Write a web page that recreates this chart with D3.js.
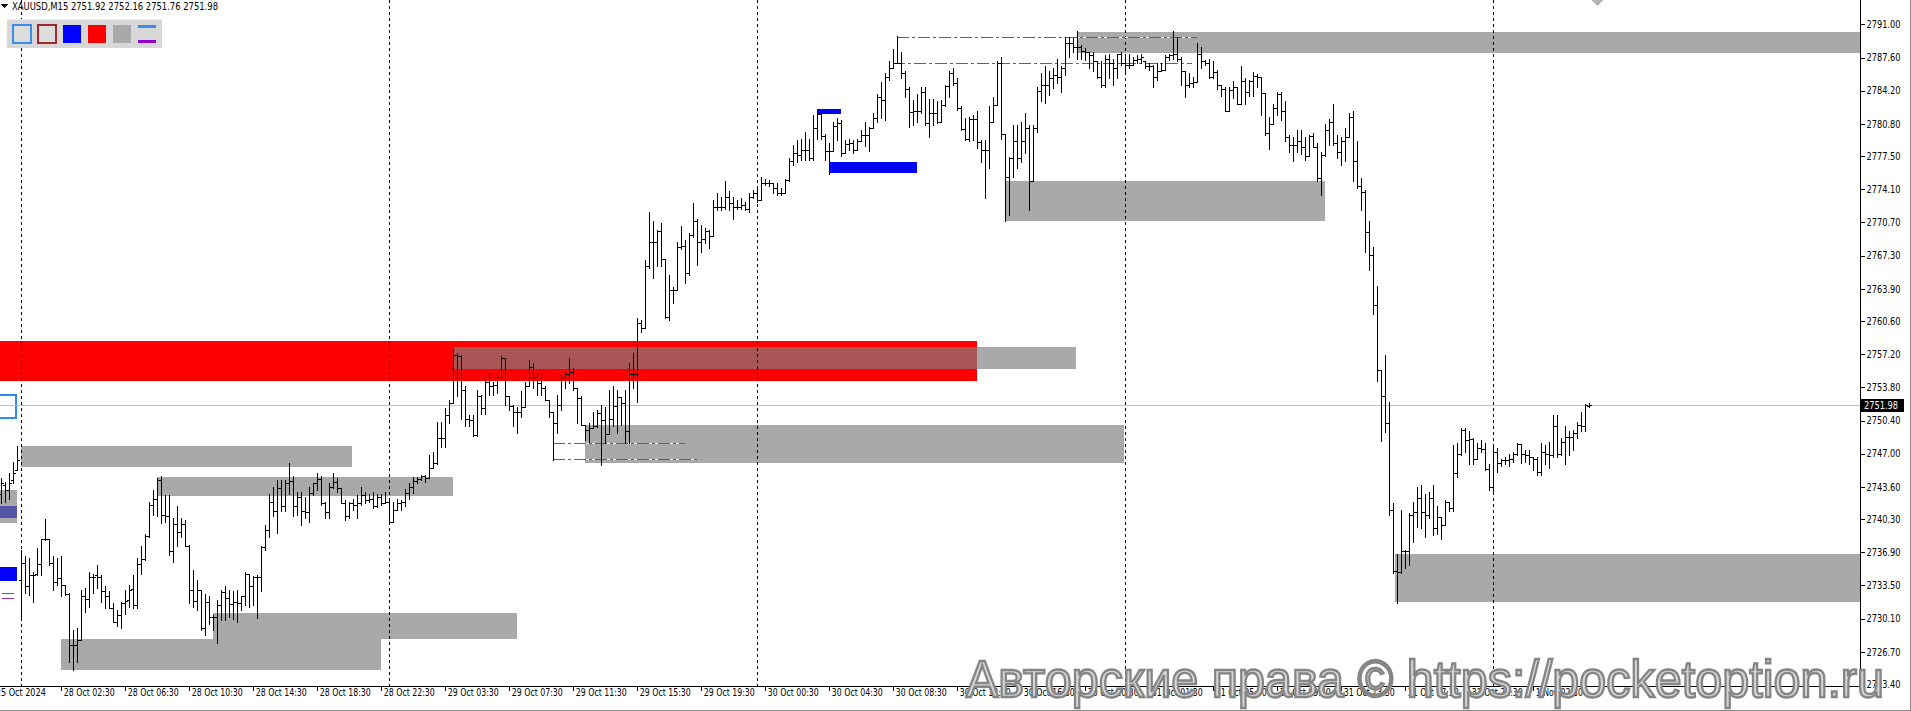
<!DOCTYPE html>
<html><head><meta charset="utf-8">
<script src="https://cdn.jsdelivr.net/npm/d3@7"></script>
<style>html,body{margin:0;padding:0;background:#fff;overflow:hidden}svg{display:block}</style>
</head><body>
<svg id="chart" width="1911" height="711"></svg>
<script>
// ---------- DATA (XAUUSD M15, [open, high, low, close]) ----------
const bars25Oct = [
[2742.9,2744.5,2741.9,2744.0],[2743.8,2744.1,2742.1,2743.3],[2743.3,2745.0,2742.4,2744.0],[2744.3,2746.2,2744.0,2745.0],[2745.3,2747.8,2745.3,2746.4]];
const bars28Oct = [
[2734.1,2737.1,2730.1,2735.8],[2735.8,2736.5,2732.7,2733.4],[2733.4,2736.3,2732.5,2734.6],[2734.6,2734.9,2731.8,2734.6],[2734.7,2737.3,2734.6,2735.7],
[2735.7,2738.3,2734.6,2738.3],[2738.3,2740.3,2738.2,2738.3],[2738.3,2738.3,2735.6,2735.8],[2735.8,2736.5,2733.0,2733.9],[2733.9,2736.3,2733.5,2734.3],
[2734.3,2736.5,2732.4,2733.5],[2733.5,2733.5,2732.5,2732.6],[2732.6,2732.7,2725.7,2727.4],[2727.4,2728.9,2724.8,2727.4],[2727.4,2729.1,2725.7,2727.9],
[2727.9,2733.0,2727.9,2732.4],[2732.4,2733.2,2730.8,2732.1],[2732.1,2734.9,2731.3,2734.4],[2734.4,2734.7,2732.7,2734.4],[2734.6,2735.6,2733.2,2734.4],
[2734.4,2734.6,2731.8,2732.9],[2732.9,2733.4,2731.2,2732.4],[2732.4,2732.9,2731.2,2731.2],[2731.2,2731.7,2729.8,2729.8],[2729.8,2731.0,2729.3,2730.5],
[2730.5,2731.8,2729.1,2731.7],[2731.7,2733.0,2730.6,2731.9],[2732.0,2733.5,2731.3,2733.0],[2733.1,2734.6,2731.2,2731.5],[2731.5,2736.3,2731.2,2735.7],
[2735.7,2737.5,2734.7,2736.2],[2736.2,2738.8,2736.1,2738.6],[2738.6,2742.1,2738.5,2741.7],[2741.7,2743.3,2740.7,2742.4],[2742.4,2744.5,2740.6,2744.3],
[2744.3,2744.7,2739.9,2740.7],[2740.7,2742.8,2740.0,2740.6],[2740.6,2742.8,2736.6,2737.0],[2737.0,2740.4,2735.9,2739.8],[2739.8,2741.6,2737.5,2739.0],
[2739.0,2740.4,2738.5,2739.8],[2739.8,2740.2,2737.5,2737.5],[2737.5,2737.6,2731.7,2733.0],[2733.0,2735.1,2731.3,2731.9],[2731.9,2734.1,2731.0,2733.0],
[2733.0,2733.0,2728.9,2729.1],[2729.1,2732.6,2728.4,2731.8],[2731.8,2732.4,2729.6,2730.3],[2730.3,2730.5,2728.9,2730.3],[2730.3,2732.0,2727.6,2731.5],
[2731.5,2733.0,2730.0,2732.8],[2732.8,2733.4,2730.0,2732.2],[2732.2,2733.0,2730.3,2731.6],[2731.6,2732.9,2730.1,2731.8],[2731.8,2733.0,2729.8,2731.7],
[2731.7,2732.4,2731.0,2732.4],[2732.4,2734.9,2731.5,2734.7],[2734.7,2734.7,2731.3,2733.4],[2733.4,2734.5,2731.5,2734.4],[2734.4,2734.6,2730.2,2734.4],
[2734.4,2737.5,2732.9,2737.4],[2737.4,2739.7,2737.1,2739.2],[2739.2,2742.9,2738.5,2742.1],[2742.1,2743.6,2740.6,2741.1],[2741.1,2744.3,2738.9,2743.5],
[2743.5,2744.3,2741.1,2741.6],[2741.6,2744.3,2741.1,2744.0],[2744.0,2746.0,2742.9,2744.2],[2744.2,2744.7,2740.6,2741.6],[2741.6,2743.1,2740.7,2742.6],
[2742.6,2743.1,2739.7,2741.1],[2741.1,2742.6,2740.4,2741.0],[2741.0,2743.6,2740.0,2743.0],[2743.0,2744.0,2742.8,2744.0],[2744.0,2745.0,2743.3,2744.4],
[2744.4,2744.7,2741.7,2741.9],[2741.9,2742.1,2740.4,2741.0],[2741.0,2744.0,2740.4,2743.6],[2743.6,2745.0,2743.5,2744.1],[2744.1,2744.5,2743.1,2743.5],
[2743.5,2743.5,2741.9,2742.0],[2742.0,2742.3,2740.2,2740.6],[2740.6,2742.1,2740.4,2741.9],[2741.9,2742.4,2741.2,2741.7],[2741.7,2742.8,2740.4,2741.9],
[2741.9,2743.6,2741.7,2742.8],[2742.8,2743.1,2741.9,2742.3],[2742.3,2742.9,2742.1,2742.4],[2742.4,2743.1,2741.4,2741.6],[2741.6,2742.9,2741.5,2742.6],
[2742.6,2742.9,2741.7,2741.9],[2741.9,2743.1,2741.9,2742.1]];
const bars29Oct = [
[2742.1,2742.4,2739.9,2740.0],[2740.0,2742.1,2740.0,2741.2],[2741.2,2742.4,2741.2,2741.9],[2741.9,2742.3,2741.2,2742.1],[2742.1,2743.4,2741.6,2743.0],
[2743.0,2744.0,2742.4,2743.6],[2743.6,2744.6,2743.0,2744.2],[2744.2,2744.6,2744.0,2744.4],[2744.4,2744.8,2744.3,2744.7],[2744.7,2744.8,2744.1,2744.5],
[2744.5,2746.9,2744.5,2745.5],[2745.5,2747.2,2745.5,2746.0],[2746.0,2750.3,2745.9,2748.6],[2748.6,2750.3,2747.7,2748.6],[2748.6,2751.7,2747.7,2751.0],
[2751.0,2752.5,2750.1,2752.2],[2752.2,2757.8,2752.2,2757.1],[2757.1,2757.3,2752.9,2757.0],[2757.0,2757.1,2750.6,2753.5],[2753.5,2753.9,2749.8,2750.6],
[2750.6,2751.0,2749.8,2750.5],[2750.5,2751.0,2748.8,2748.9],[2748.9,2753.5,2748.8,2752.9],[2752.9,2753.0,2751.1,2751.7],[2751.7,2754.7,2751.1,2754.4],
[2754.4,2755.4,2753.0,2753.9],[2753.9,2754.4,2753.0,2754.0],[2754.0,2755.2,2753.2,2754.9],[2754.9,2757.0,2754.7,2756.8],[2756.8,2756.8,2752.0,2752.9],
[2752.9,2752.9,2751.5,2751.9],[2751.9,2752.0,2749.8,2751.3],[2751.3,2751.8,2749.1,2751.3],[2751.3,2753.4,2750.8,2751.8],[2751.8,2754.4,2751.8,2753.9],
[2753.9,2756.6,2753.9,2755.9],[2755.9,2756.3,2753.7,2754.9],[2754.9,2755.4,2753.0,2754.2],[2754.2,2755.2,2753.0,2753.7],[2753.7,2753.9,2752.5,2752.5],
[2752.5,2752.5,2750.8,2751.3],[2751.3,2751.3,2746.4,2750.1],[2750.1,2753.0,2749.1,2752.0],[2752.0,2755.1,2751.5,2754.9],[2754.9,2755.4,2753.7,2755.2],
[2755.2,2756.8,2754.2,2755.4],[2755.4,2755.8,2753.5,2753.7],[2753.7,2753.7,2750.1,2752.7],[2752.7,2752.9,2749.9,2749.9],[2749.9,2749.9,2748.4,2749.4],
[2749.4,2750.1,2748.2,2749.6],[2749.6,2751.3,2749.6,2749.8],[2749.8,2751.5,2749.7,2751.2],[2751.2,2752.0,2745.8,2750.5],[2750.5,2751.8,2748.1,2749.0],
[2749.0,2753.5,2749.0,2750.6],[2750.6,2753.9,2749.8,2751.9],[2751.9,2753.5,2749.1,2752.8],[2752.8,2752.8,2749.9,2752.2],[2752.2,2753.5,2748.1,2749.3],
[2749.3,2756.3,2748.1,2755.2],[2755.2,2757.3,2753.7,2755.2],[2755.2,2760.9,2752.3,2760.4],[2760.4,2760.7,2759.5,2759.9],[2759.9,2766.9,2759.9,2766.2],
[2766.2,2771.8,2766.0,2768.7],[2768.7,2770.8,2765.0,2768.7],[2768.7,2769.9,2766.2,2769.8],[2769.8,2770.6,2766.2,2767.0],[2767.0,2767.0,2760.9,2761.0],
[2761.0,2765.3,2760.7,2763.8],[2763.8,2764.1,2762.4,2763.8],[2763.8,2768.7,2763.8,2768.2],[2768.2,2770.3,2768.0,2768.3],[2768.3,2768.9,2764.5,2765.5],
[2765.5,2769.6,2765.3,2769.4],[2769.4,2772.7,2769.2,2770.8],[2770.8,2771.1,2766.3,2768.7],[2768.7,2770.4,2767.7,2769.0],[2769.0,2770.1,2768.6,2769.8],
[2769.8,2769.9,2768.1,2769.3],[2769.3,2773.0,2769.3,2772.3],[2772.3,2773.7,2772.0,2772.3],[2772.3,2773.3,2772.0,2772.3],[2772.3,2774.9,2772.1,2773.3],
[2773.3,2773.9,2772.0,2772.7],[2772.7,2773.3,2771.1,2772.3],[2772.3,2773.0,2772.1,2772.3],[2772.3,2773.2,2772.1,2772.5],[2772.5,2772.8,2772.0,2772.1],
[2772.1,2773.7,2771.8,2773.3],[2773.3,2774.0,2773.2,2773.7]];
const bars30Oct = [
[2773.7,2774.2,2772.8,2773.0],[2773.0,2775.4,2773.0,2774.7],[2774.7,2775.2,2774.5,2774.7],[2774.7,2775.1,2774.4,2774.7],[2774.7,2774.7,2773.7,2774.2],
[2774.2,2774.7,2773.5,2773.7],[2773.7,2774.2,2773.5,2773.7],[2773.7,2775.2,2773.7,2775.1],[2775.1,2777.3,2774.9,2777.0],[2777.0,2778.6,2776.6,2777.8],
[2777.8,2779.2,2776.9,2777.6],[2777.6,2779.3,2777.1,2778.1],[2778.1,2780.0,2777.1,2778.1],[2778.1,2779.3,2777.1,2777.3],[2777.3,2781.7,2777.1,2780.4],
[2780.4,2782.2,2779.3,2781.8],[2781.8,2782.0,2779.3,2779.6],[2779.6,2779.8,2777.1,2778.0],[2778.0,2778.8,2775.7,2778.0],[2778.0,2781.0,2778.0,2780.6],
[2780.6,2781.4,2779.2,2780.9],[2780.9,2781.2,2777.5,2777.8],[2777.8,2779.2,2777.8,2778.7],[2778.7,2779.3,2778.1,2778.8],[2778.8,2779.2,2777.8,2778.1],
[2778.1,2779.3,2778.1,2779.0],[2779.0,2780.2,2779.0,2779.7],[2779.7,2781.0,2778.5,2779.7],[2779.7,2780.5,2778.0,2780.4],[2780.4,2781.9,2780.4,2781.4],
[2781.4,2783.9,2781.0,2783.6],[2783.6,2785.1,2781.4,2783.3],[2783.3,2786.0,2781.2,2785.6],[2785.6,2787.2,2785.3,2786.5],[2786.5,2788.5,2786.5,2787.0],
[2787.0,2789.8,2787.0,2787.0],[2787.0,2788.2,2785.5,2786.0],[2786.0,2786.2,2783.6,2784.4],[2784.4,2784.6,2780.5,2782.0],[2782.0,2783.3,2780.7,2782.1],
[2782.1,2783.9,2781.0,2782.1],[2782.1,2784.6,2781.9,2784.1],[2784.1,2784.6,2780.7,2780.9],[2780.9,2783.4,2779.5,2781.9],[2781.9,2783.4,2780.7,2781.9],
[2781.9,2783.1,2780.9,2781.0],[2781.0,2783.3,2781.0,2782.7],[2782.7,2784.8,2782.6,2784.7],[2784.7,2786.2,2783.6,2786.0],[2786.0,2786.5,2784.8,2785.0],
[2785.0,2785.5,2782.2,2782.4],[2782.4,2782.6,2780.2,2780.3],[2780.3,2781.4,2779.2,2779.3],[2779.3,2781.5,2779.0,2781.3],[2781.3,2781.7,2779.2,2781.3],
[2781.3,2782.1,2778.3,2778.9],[2778.9,2779.2,2776.9,2778.1],[2778.1,2779.2,2773.2,2778.1],[2778.1,2782.6,2776.3,2781.0],[2781.0,2783.6,2781.0,2782.7],
[2782.7,2787.2,2782.7,2787.0],[2787.0,2787.7,2779.3,2779.8],[2779.8,2779.8,2770.8,2775.4],[2775.4,2777.4,2771.5,2777.3],[2777.3,2780.7,2775.4,2779.0],
[2779.0,2780.7,2776.3,2777.3],[2777.3,2781.0,2776.9,2779.0],[2779.0,2781.9,2777.8,2780.4],[2780.4,2780.7,2772.0,2774.9],[2774.9,2780.7,2774.9,2780.4],
[2780.4,2784.6,2780.0,2784.2],[2784.2,2786.0,2783.1,2784.8],[2784.8,2786.7,2782.9,2784.8],[2784.8,2786.2,2783.8,2785.5],[2785.5,2786.5,2784.5,2785.8],
[2785.8,2787.5,2785.0,2785.6],[2785.6,2786.7,2784.1,2786.5],[2786.5,2789.7,2785.8,2789.1],[2789.1,2789.7,2787.7,2789.1],[2789.1,2789.6,2788.2,2788.7],
[2788.7,2790.3,2787.5,2788.7],[2788.7,2788.9,2787.5,2788.3],[2788.3,2788.6,2787.4,2788.2],[2788.2,2788.2,2786.5,2787.9],[2787.9,2788.2,2786.2,2787.2],
[2787.2,2787.2,2785.5,2785.6],[2785.6,2787.2,2784.6,2784.8],[2784.8,2787.9,2784.6,2787.5],[2787.5,2788.0,2785.5,2787.0],[2787.0,2787.5,2784.8,2786.5],
[2786.5,2788.0,2785.5,2788.0],[2788.0,2788.2,2786.8,2787.0]];
const bars31Oct = [
[2787.0,2787.7,2786.0,2786.8],[2786.8,2788.0,2786.5,2786.8],[2786.8,2787.7,2786.8,2787.4],[2787.4,2787.9,2787.0,2787.5],[2787.5,2788.0,2787.0,2787.7],
[2787.2,2787.2,2786.5,2786.7],[2786.7,2787.0,2786.3,2786.7],[2786.7,2786.8,2784.6,2785.6],[2785.6,2787.0,2785.3,2786.2],[2786.2,2787.0,2786.2,2786.3],
[2786.3,2787.9,2786.3,2787.7],[2787.7,2788.0,2787.4,2787.9],[2787.9,2790.3,2787.5,2788.0],[2788.0,2789.7,2787.2,2787.5],[2787.5,2787.7,2784.8,2786.2],
[2786.2,2786.2,2783.6,2784.8],[2784.8,2786.0,2784.6,2785.0],[2785.0,2785.6,2784.6,2785.1],[2785.1,2789.1,2785.1,2788.0],[2788.0,2788.7,2786.5,2787.2],
[2787.2,2787.4,2786.8,2787.0],[2787.0,2787.5,2785.5,2785.6],[2785.6,2787.2,2785.5,2786.1],[2786.1,2786.3,2784.4,2784.8],[2784.8,2784.8,2783.7,2784.4],
[2784.4,2784.6,2782.1,2782.1],[2782.1,2784.6,2782.1,2784.3],[2784.3,2785.2,2783.5,2784.6],[2784.6,2784.6,2782.8,2782.8],[2782.8,2786.7,2782.8,2785.2],
[2785.2,2785.5,2782.8,2784.1],[2784.1,2785.3,2783.7,2785.2],[2785.2,2786.1,2783.7,2785.7],[2785.7,2785.9,2784.6,2785.6],[2785.6,2785.6,2781.7,2784.0],
[2784.0,2784.0,2779.7,2779.9],[2779.9,2781.5,2778.2,2780.8],[2780.8,2782.8,2780.8,2782.4],[2782.4,2784.1,2781.7,2783.9],[2783.9,2784.1,2781.2,2782.1],
[2782.1,2783.2,2779.0,2779.5],[2779.5,2779.7,2777.9,2778.6],[2778.6,2779.5,2777.0,2778.6],[2778.6,2780.2,2777.9,2779.1],[2779.1,2780.2,2777.7,2778.4],
[2778.4,2779.5,2777.1,2777.5],[2777.5,2779.7,2777.5,2779.6],[2779.6,2779.9,2778.4,2778.4],[2778.4,2778.8,2775.0,2775.3],[2775.3,2777.9,2773.5,2777.6],
[2777.6,2780.8,2777.5,2780.2],[2780.2,2781.3,2778.6,2781.0],[2781.0,2782.8,2778.6,2778.8],[2778.8,2779.7,2777.3,2777.9],[2777.9,2779.5,2776.6,2779.0],
[2779.0,2780.4,2777.0,2779.5],[2779.5,2781.9,2779.5,2781.5],[2781.5,2782.1,2775.0,2777.0],[2777.0,2779.0,2774.2,2774.4],[2774.4,2775.3,2772.0,2773.8],
[2773.8,2774.0,2767.7,2769.7],[2769.7,2770.8,2765.8,2767.4],[2767.4,2768.2,2761.3,2762.2],[2762.2,2764.2,2754.5,2755.6],[2755.6,2755.6,2748.3,2752.9],
[2752.9,2757.1,2749.2,2750.1],[2750.1,2752.3,2740.7,2741.2],[2741.2,2741.9,2734.8,2735.0],[2735.0,2736.7,2731.7,2734.9],[2734.9,2741.2,2734.8,2737.0],
[2737.0,2737.1,2735.3,2737.0],[2737.0,2740.9,2735.6,2740.7],[2740.7,2742.1,2738.0,2741.0],[2741.0,2743.6,2739.5,2742.5],[2742.5,2743.8,2739.4,2741.0],
[2741.0,2742.9,2738.5,2740.7],[2740.7,2743.1,2740.4,2742.5],[2742.5,2743.8,2738.7,2739.4],[2739.4,2741.6,2738.8,2740.5],[2740.5,2740.5,2738.3,2739.7],
[2739.7,2742.3,2739.7,2742.1],[2742.1,2742.1,2741.1,2741.4],[2741.4,2747.9,2741.1,2745.0],[2745.0,2748.1,2744.6,2747.0],[2747.0,2749.6,2746.9,2749.4],
[2749.4,2749.6,2747.2,2748.4],[2748.4,2749.3,2745.9,2748.5],[2748.5,2748.6,2745.9,2746.5],[2746.5,2748.1,2746.5,2747.6],[2747.6,2748.4,2747.2,2747.5],
[2747.5,2748.1,2745.3,2745.4],[2745.4,2745.9,2743.3,2743.6]];
const bars1Nov = [
[2743.6,2747.7,2742.9,2747.2],[2747.2,2747.6,2745.1,2746.0],[2746.0,2746.5,2745.7,2746.4],[2746.4,2746.7,2745.9,2746.4],[2746.4,2747.0,2745.7,2746.5],
[2746.5,2747.2,2746.2,2747.0],[2747.0,2748.1,2746.9,2748.0],[2748.0,2748.0,2746.0,2747.0],[2747.0,2747.4,2746.2,2746.9],[2746.9,2747.4,2745.9,2746.7],
[2746.7,2746.7,2745.3,2746.5],[2746.5,2746.7,2744.8,2745.1],[2745.1,2748.1,2744.8,2747.2],[2747.2,2747.9,2745.9,2747.0],[2747.0,2748.2,2745.5,2746.9],
[2746.9,2751.0,2746.7,2749.8],[2749.8,2751.0,2746.7,2747.0],[2747.0,2748.6,2746.9,2748.2],[2748.2,2749.8,2745.9,2748.7],[2748.7,2749.3,2746.9,2748.7],
[2748.7,2749.4,2747.4,2749.1],[2749.1,2750.3,2748.6,2749.9],[2749.9,2751.3,2749.3,2749.8],[2749.8,2752.1,2749.3,2752.0],[2751.92,2752.16,2751.76,2751.98]];

const yTicks = [2791.00,2787.60,2784.20,2780.80,2777.50,2774.10,2770.70,2767.30,2763.90,2760.60,2757.20,2753.80,2750.40,2747.00,2743.60,2740.30,2736.90,2733.50,2730.10,2726.70,2723.40];
const xLabels = ["25 Oct 2024","28 Oct 02:30","28 Oct 06:30","28 Oct 10:30","28 Oct 14:30","28 Oct 18:30","28 Oct 22:30","29 Oct 03:30","29 Oct 07:30","29 Oct 11:30","29 Oct 15:30","29 Oct 19:30","30 Oct 00:30","30 Oct 04:30","30 Oct 08:30","30 Oct 12:30","30 Oct 16:30","30 Oct 20:30","31 Oct 01:30","31 Oct 05:30","31 Oct 09:30","31 Oct 13:30","31 Oct 17:30","31 Oct 21:30","1 Nov 02:30"];
const xLabelBars = [-2,15,31,47,63,79,95,111,127,143,159,175,191,207,223,239,255,271,287,303,319,335,351,367,383];
const daySeparatorBars = [5,97,189,281,373];
const lastPrice = 2751.98;
const titleText = "XAUUSD,M15  2751.92 2752.16 2751.76 2751.98";

// zones: [fromBar, toBar, priceTop, priceBottom]
const redZones = [[-10,243.9,2758.6,2754.5]];
const grayZones = [[268.8,500,2790.25,2788.1],[251,331,2775.0,2770.8],[348.5,500,2736.7,2731.8],[146,280.6,2749.95,2746.0],
  [113,268.7,2757.9,2755.7],[5,87.7,2747.8,2745.6],[39,113,2744.6,2742.7],[15,95,2728.0,2724.8],[53,129,2730.7,2728.0],[-10,3.85,2743.3,2739.9]];
const blueZones = [[204,210,2782.35,2781.8],[207,228.85,2776.9,2775.8],[-10,3.85,2735.4,2734.0],[-10,3.85,2741.6,2740.4]];
const outlineZones = [[-10,3.9,2753.1,2750.55]];
// purple levels: [fromBar, toBar, price]
const purpleLevels = [[224,299,2789.74],[223,297.6,2787.0],[138,171,2748.13],[138,174,2746.45],[-5,3.5,2732.7],[-5,3.5,2732.2]];

// ---------- CHART ----------
const bars = [].concat(bars25Oct, bars28Oct, bars29Oct, bars30Oct, bars31Oct, bars1Nov);
const W = 1911, H = 711, plotR = 1860, plotB = 686;
const svg = d3.select("#chart").attr("shape-rendering","crispEdges");
svg.append("rect").attr("width",W).attr("height",H).attr("fill","#fff");

const x = d3.scaleLinear().domain([0, bars.length-1]).range([1.3, 1.3 + 4*(bars.length-1)]);
const y = d3.scaleLinear().domain([2723.4, 2791.0]).range([684, 24.4]);

svg.append("defs").append("clipPath").attr("id","plot").append("rect").attr("x",0).attr("y",0).attr("width",plotR).attr("height",plotB);
const plot = svg.append("g").attr("clip-path","url(#plot)");

function zoneRect(g, z, fill){
  const x0 = Math.round(x(z[0])), x1 = Math.round(x(z[1]));
  const y0 = Math.round(y(z[2])), y1 = Math.round(y(z[3]));
  return g.append("rect").attr("x",x0).attr("y",y0).attr("width",Math.max(1,x1-x0)).attr("height",Math.max(1,y1-y0)).attr("fill",fill);
}
function intersect(a,b){
  const f=Math.max(a[0],b[0]), t=Math.min(a[1],b[1]), top=Math.min(a[2],b[2]), bot=Math.max(a[3],b[3]);
  return (f<t && top>bot) ? [f,t,top,bot] : null;
}
const zg = plot.append("g");
redZones.forEach(z=>zoneRect(zg,z,"#ff0000"));
grayZones.forEach(z=>zoneRect(zg,z,"#a9a9a9"));
blueZones.forEach(z=>zoneRect(zg,z,"#0000ff"));
grayZones.forEach(g=>{
  redZones.forEach(r=>{const o=intersect(g,r); if(o) zoneRect(zg,o,"#a85656");});
  blueZones.forEach(b=>{const o=intersect(g,b); if(o) zoneRect(zg,o,"#5454a8");});
});
outlineZones.forEach(z=>{
  const x0=x(z[0]), x1=x(z[1]), y0=Math.round(y(z[2])), y1=Math.round(y(z[3]));
  zg.append("rect").attr("x",x0).attr("y",y0+1).attr("width",x1-x0-1).attr("height",y1-y0-2)
    .attr("fill","none").attr("stroke","#2a8cf0").attr("stroke-width",2);
});

daySeparatorBars.forEach(b=>{
  const xx = Math.round(x(b))+0.5;
  plot.append("line").attr("x1",xx).attr("x2",xx).attr("y1",0).attr("y2",plotB)
    .attr("stroke","#000").attr("stroke-width",1).attr("stroke-dasharray","3,3");
});

purpleLevels.forEach(l=>{
  const yy = Math.round(y(l[2]))+0.5;
  plot.append("line").attr("x1",x(l[0])).attr("x2",x(l[1])).attr("y1",yy).attr("y2",yy).attr("stroke","#fff").attr("stroke-width",1);
  plot.append("line").attr("x1",x(l[0])).attr("x2",x(l[1])).attr("y1",yy).attr("y2",yy)
    .attr("stroke","#9932cc").attr("stroke-width",1).attr("stroke-dasharray","12,3,3,3");
});

const lpY = Math.round(y(lastPrice))+0.5;
plot.append("line").attr("x1",0).attr("x2",plotR).attr("y1",lpY).attr("y2",lpY).attr("stroke","#c0c0c0").attr("stroke-width",1);

const bg = plot.append("g").attr("fill","#000");
bars.forEach((d,i)=>{
  const xx = Math.round(x(i));
  const yh = Math.round(y(d[1])), yl = Math.round(y(d[2]));
  bg.append("rect").attr("x",xx).attr("y",yh).attr("width",1).attr("height",Math.max(1,yl-yh+1));
  bg.append("rect").attr("x",xx-2).attr("y",Math.round(y(d[0]))).attr("width",2).attr("height",1);
  bg.append("rect").attr("x",xx+1).attr("y",Math.round(y(d[3]))).attr("width",2).attr("height",1);
});

svg.append("path").attr("d",`M${x(bars.length-1)+2},0 L${x(bars.length-1)+14},0 L${x(bars.length-1)+8},6 Z`).attr("fill","#b4b4b4");

const axisFont = "Tahoma,'DejaVu Sans','Liberation Sans',sans-serif";
svg.append("line").attr("x1",plotR+0.5).attr("x2",plotR+0.5).attr("y1",0).attr("y2",plotB+1).attr("stroke","#000");
svg.append("line").attr("x1",0).attr("x2",plotR+1).attr("y1",plotB+0.5).attr("y2",plotB+0.5).attr("stroke","#000");

const yAxis = svg.append("g").attr("transform",`translate(${plotR+0.5},0)`)
  .call(d3.axisRight(y).tickValues(yTicks).tickFormat(d3.format(".2f")).tickSize(4).tickSizeOuter(0).tickPadding(2));
yAxis.select(".domain").remove();
yAxis.selectAll("text").attr("font-family",axisFont).attr("font-size",10).attr("fill","#000")
  .attr("textLength",34).attr("lengthAdjust","spacingAndGlyphs");
yAxis.selectAll("line").attr("stroke","#000");

const xAxis = svg.append("g").attr("transform",`translate(0,${plotB+0.5})`)
  .call(d3.axisBottom(x).tickValues(xLabelBars).tickFormat((d,i)=>xLabels[i]).tickSize(4).tickSizeOuter(0));
xAxis.select(".domain").remove();
xAxis.selectAll("line").attr("stroke","#000");
xAxis.selectAll("text").attr("font-family",axisFont).attr("font-size",10).attr("fill","#000")
  .attr("text-anchor","start").attr("x",2).attr("dy","0.55em").attr("y",4)
  .attr("textLength",(d,i)=> i===0 ? 50 : (xLabels[i].length>=12 ? 51 : 47)).attr("lengthAdjust","spacingAndGlyphs");

const lpg = svg.append("g");
lpg.append("rect").attr("x",plotR+1).attr("y",Math.round(y(lastPrice))-6).attr("width",43).attr("height",13).attr("fill","#000");
lpg.append("text").attr("x",plotR+4).attr("y",Math.round(y(lastPrice))+4).attr("font-family",axisFont).attr("font-size",10)
  .attr("textLength",34).attr("lengthAdjust","spacingAndGlyphs").attr("fill","#fff").text(d3.format(".2f")(lastPrice));

svg.append("path").attr("d","M1,4 L8,4 L4.5,8 Z").attr("fill","#000");
svg.append("text").attr("x",12).attr("y",10).attr("font-family",axisFont).attr("font-size",10).attr("fill","#000")
  .attr("textLength",206).attr("lengthAdjust","spacingAndGlyphs").text(titleText);

const panel = svg.append("g");
panel.append("rect").attr("x",7).attr("y",19).attr("width",155).attr("height",29).attr("fill","#d8d8d8");
panel.append("rect").attr("x",7).attr("y",19).attr("width",155).attr("height",1).attr("fill","#ececec");
panel.append("rect").attr("x",13).attr("y",25).attr("width",18).attr("height",18).attr("fill","#dcdcdc").attr("stroke","#3a8ee8").attr("stroke-width",2);
panel.append("rect").attr("x",38).attr("y",25).attr("width",18).attr("height",18).attr("fill","#dcdcdc").attr("stroke","#a02828").attr("stroke-width",2);
panel.append("rect").attr("x",63).attr("y",25).attr("width",18).attr("height",18).attr("fill","#0000ff");
panel.append("rect").attr("x",88).attr("y",25).attr("width",18).attr("height",18).attr("fill","#ff0000");
panel.append("rect").attr("x",113).attr("y",25).attr("width",18).attr("height",18).attr("fill","#a9a9a9");
panel.append("rect").attr("x",138).attr("y",25).attr("width",18).attr("height",3).attr("fill","#3a8ee8");
panel.append("rect").attr("x",138).attr("y",40).attr("width",18).attr("height",3).attr("fill","#9400d3");

svg.append("line").attr("x1",W-0.5).attr("x2",W-0.5).attr("y1",0).attr("y2",H).attr("stroke","#888");
svg.append("line").attr("x1",0).attr("x2",W).attr("y1",H-0.5).attr("y2",H-0.5).attr("stroke","#888");

svg.append("text").attr("x",966).attr("y",697).attr("textLength",918).attr("lengthAdjust","spacingAndGlyphs")
  .attr("font-family","'Liberation Sans',Arial,sans-serif").attr("font-size",52)
  .attr("fill","#d6d6d6").attr("stroke","#858585").attr("stroke-width",2.4).attr("shape-rendering","auto")
  .text("Авторские права © https://pocketoption.ru");
</script>
</body></html>
